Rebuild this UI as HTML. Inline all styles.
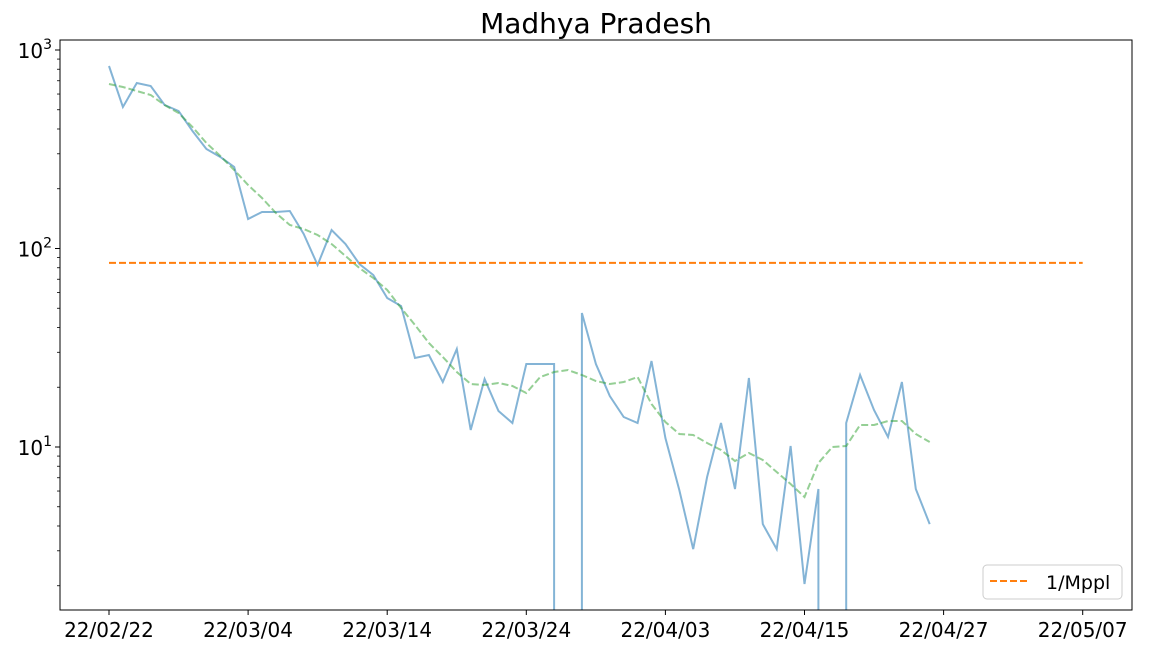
<!DOCTYPE html>
<html><head><meta charset="utf-8"><style>
html,body{margin:0;background:#fff;width:1152px;height:648px;overflow:hidden;}
svg{display:block;font-family:"DejaVu Sans","Liberation Sans",sans-serif;}
</style></head><body>
<svg id="c" width="1152" height="648"></svg>
<script>
const tickLabels=["22/02/22","22/03/04","22/03/14","22/03/24","22/04/03","22/04/15","22/04/27","22/05/07"];
const tickIdx=[0,10,20,30,40,50,60,70];
const seriesY=[66,107,83,86,105,111,131,149,157,167,219,212,212,211,234,265,230,244,264,275,298,306,358,355,382,349,430,379,411,423,364,364,364,null,313,364,396,417,423,361,438,490,549,477,423,489,378,524,549,446,584,489,null,423,375,410,437,382,489,524];
const rawValues=seriesY.map(y=>y===null?0:+Math.pow(10,(645.5-y)/198.5).toFixed(2));
const meanY=[84,87,91,95,105,113,127,143,156,170,185,198,213,225,229,235,244,256,268,278,290,308,325,343,357,372,384,385,383,386,393,377,372,370,375,381,384,382,377,404,422,434,435,443,450,461,453,460,472,484,497,463,447,446,425,425,421,421,434,442];
const meanValues=meanY.map(y=>+Math.pow(10,(645.5-y)/198.5).toFixed(2));
const thresholdValue=[84.6];
const ns="http://www.w3.org/2000/svg";
const svg=document.getElementById('c');
const L=60,R=1132,T=40,B=610;
const X=i=>109+13.91*i;
const Y=v=>645.5-198.5*Math.log10(v);
function mk(t,a,p){const e=document.createElementNS(ns,t);for(const k in a)e.setAttribute(k,a[k]);(p||svg).appendChild(e);return e;}
const clip=mk('clipPath',{id:'cl'});mk('rect',{x:L,y:T,width:R-L,height:B-T},clip);
const g=mk('g',{'clip-path':'url(#cl)'});
let d='';
rawValues.forEach((v,i)=>{
 if(v<=0){ d+=' L'+X(i-1).toFixed(1)+' '+B+' M'+X(i+1).toFixed(1)+' '+B; }
 else d+=(i?' L':'M')+X(i).toFixed(1)+' '+Y(v).toFixed(1);
});
const raw=mk('path',{d:d,fill:'none',stroke:'#1f77b4','stroke-opacity':0.55,'stroke-width':2},g);


d=meanValues.map((v,i)=>(i?'L':'M')+X(i).toFixed(1)+' '+Y(v).toFixed(1)).join(' ');
const mean=mk('path',{d:d,fill:'none',stroke:'#2ca02c','stroke-opacity':0.5,'stroke-width':2,'stroke-dasharray':'7,3'},g);


const th=mk('line',{x1:X(0),x2:X(70),y1:Y(thresholdValue[0]),y2:Y(thresholdValue[0]),stroke:'#ff7f0e','stroke-width':2,'stroke-dasharray':'7,3'},g);


const fr=mk('rect',{x:L,y:T,width:R-L,height:B-T,fill:'none',stroke:'#000','stroke-width':1});


tickIdx.forEach((ix,k)=>{
 mk('line',{x1:X(ix),x2:X(ix),y1:B,y2:B+5,stroke:'#000'});
 const t=mk('text',{x:X(ix),y:B+27,'text-anchor':'middle','font-size':20});
 t.textContent=tickLabels[k];
 
 
});
[1,2,3].forEach(p=>{
 const y=Y(Math.pow(10,p));
 mk('line',{x1:L-5,x2:L,y1:y,y2:y,stroke:'#000'});
 const t=mk('text',{x:L-8,y:y+8,'text-anchor':'end','font-size':20});
 t.innerHTML='10<tspan dy="-9" font-size="14">'+p+'</tspan>';
 
 
});
for(let p=0;p<3;p++)for(let m=2;m<10;m++){const y=Y(m*Math.pow(10,p));if(y>T&&y<B)mk('line',{x1:L-3,x2:L,y1:y,y2:y,stroke:'#000','stroke-width':0.8});}
const ti=mk('text',{x:596,y:33,'text-anchor':'middle','font-size':28});
ti.textContent='Madhya Pradesh';


const lg=mk('g',{});


mk('rect',{x:983,y:565,width:139,height:34,rx:4,fill:'#fff',stroke:'#ccc'},lg);
mk('line',{x1:990,x2:1030,y1:581,y2:581,stroke:'#ff7f0e','stroke-width':2,'stroke-dasharray':'7,3'},lg);
const lt=mk('text',{x:1046,y:589,'font-size':19},lg);lt.textContent='1/Mppl';


</script>
</body></html>
